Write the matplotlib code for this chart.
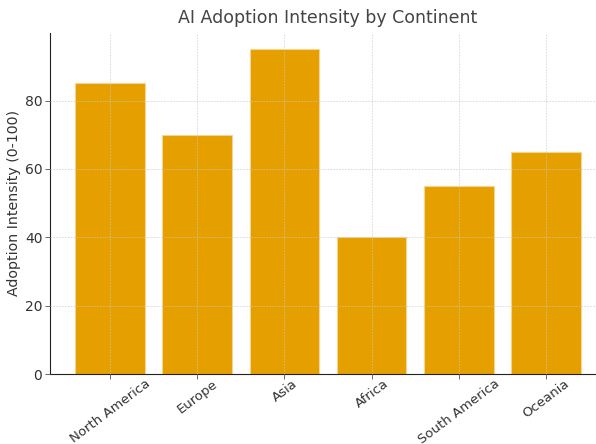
import matplotlib.pyplot as plt

continents = ["North America", "Europe", "Asia", "Africa", "South America", "Oceania"]
intensity = [85, 70, 95, 40, 55, 65]

text_color = "#333333"

fig = plt.figure(figsize=(5.96, 4.44), dpi=100)
ax = fig.add_axes([50 / 596, (444 - 374) / 444, 556 / 596, 341 / 444])

ax.bar(continents, intensity, width=0.8, color="#E5A000", edgecolor="#F5D590", linewidth=0.8)

ax.set_title("AI Adoption Intensity by Continent", fontsize=12.5, color="#444444", pad=7)
ax.set_ylabel("Adoption Intensity (0-100)", fontsize=10.2, color=text_color)
ax.yaxis.set_label_coords(-29 / 556, 0.5)
ax.tick_params(axis="x", length=3.5, width=0.7, color="#666666", pad=-1)
ax.tick_params(axis="y", length=3.5, width=0.7, color="#666666", labelsize=10,
               labelcolor=text_color, pad=2)
for lbl in ax.get_xticklabels():
    lbl.set_fontsize(9.5)
    lbl.set_color(text_color)
    lbl.set_rotation(37)
    lbl.set_ha("center")

ax.grid(True, linestyle=(0, (2, 1.5)), color="#C8C8C8", linewidth=0.6, alpha=0.75)
ax.set_axisbelow(False)
for s in ["top", "right"]:
    ax.spines[s].set_visible(False)
ax.spines["left"].set_color("#222222")
ax.spines["bottom"].set_color("#222222")

fig.savefig("out.png", dpi=100)
